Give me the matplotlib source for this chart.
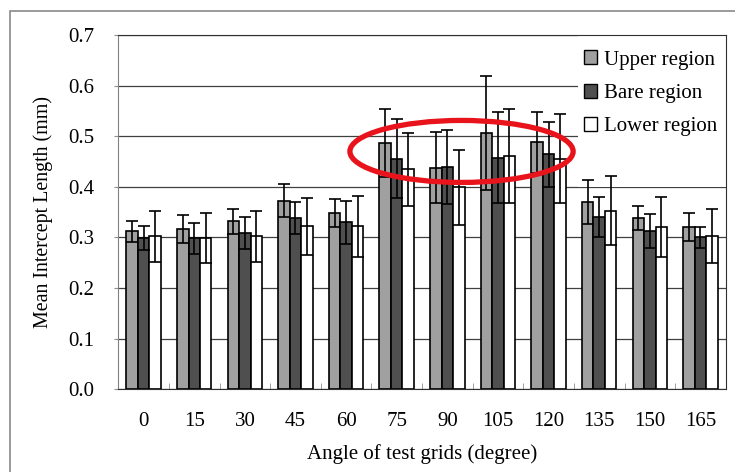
import numpy as np
import matplotlib
matplotlib.use("Agg")
import matplotlib.pyplot as plt
from matplotlib.patches import Ellipse, Rectangle

plt.rcParams['font.family'] = ['Liberation Serif', 'DejaVu Serif']

# data
angles = ['0', '15', '30', '45', '60', '75', '90', '105', '120', '135', '150', '165']
upper = [0.312, 0.317, 0.332, 0.373, 0.348, 0.487, 0.438, 0.507, 0.488, 0.370, 0.339, 0.321]
upper_err = [0.021, 0.028, 0.025, 0.032, 0.028, 0.067, 0.070, 0.113, 0.060, 0.043, 0.024, 0.027]
bare = [0.299, 0.298, 0.309, 0.338, 0.330, 0.456, 0.440, 0.458, 0.464, 0.340, 0.313, 0.300]
bare_err = [0.024, 0.030, 0.032, 0.032, 0.042, 0.078, 0.073, 0.090, 0.065, 0.040, 0.033, 0.020]
lower = [0.302, 0.299, 0.302, 0.322, 0.322, 0.435, 0.399, 0.461, 0.456, 0.353, 0.321, 0.303]
lower_err = [0.050, 0.050, 0.050, 0.056, 0.060, 0.072, 0.074, 0.093, 0.087, 0.068, 0.059, 0.054]
series_names = ['Upper region', 'Bare region', 'Lower region']

# highlight ellipse (data coords)
ell_center = (6.28, 0.470)
ell_w, ell_h = 4.41, 0.1225

fig = plt.figure(figsize=(7.35, 4.72), dpi=100)
ax = fig.add_axes([0.161, 0.1752, 0.8264, 0.7506])

# outer frame of the figure (cut off at right and bottom)
fig.patches.append(Rectangle((0.0136, -0.1), 1.2, 1.0767, transform=fig.transFigure,
                             fill=False, edgecolor='#8a8a8a', lw=1.2))

x = np.arange(len(angles))
w = 0.227
fs = 15
colors = ['#a0a0a0', '#4f4f4f', 'white']
vals = [upper, bare, lower]
errs = [upper_err, bare_err, lower_err]
for i in range(3):
    ax.bar(x + (i - 1) * w, vals[i], w, color=colors[i], edgecolor='black', lw=1.2,
           label=series_names[i], zorder=3)
for i in range(3):
    ax.errorbar(x + (i - 1) * w, vals[i], yerr=errs[i], fmt='none', ecolor='black',
                elinewidth=1.2, capsize=4, capthick=1.2, zorder=4)

ax.set_xlim(-0.5, len(angles) - 0.5)
ax.set_ylim(0, 0.7)
ax.set_yticks(np.arange(0, 0.71, 0.1))
ax.set_yticklabels(['%.1f' % v for v in np.arange(0, 0.71, 0.1)], fontsize=fs)
ax.set_xticks(x)
ax.set_xticklabels(angles, fontsize=fs)
ax.set_xticks(x[:-1] + 0.5, minor=True)
ax.tick_params(axis='x', which='major', length=0, pad=16)
ax.tick_params(axis='x', which='minor', direction='in', length=4, color='#909090')
ax.tick_params(axis='y', direction='out', length=3, color='#909090', pad=14)
ax.yaxis.grid(True, color='#404040', lw=0.9, zorder=0)
ax.set_axisbelow(True)
for s in ['top', 'right']:
    ax.spines[s].set_color('#303030')
ax.spines['left'].set_color('#808080')
ax.spines['bottom'].set_color('#303030')

ax.set_xlabel('Angle of test grids (degree)', fontsize=fs, labelpad=10)
ax.set_ylabel('Mean Intercept Length (mm)', fontsize=14.4, labelpad=11)

# white area behind the legend
ax.add_patch(Rectangle((0.757, 0.572), 0.243, 0.428, transform=ax.transAxes,
                       facecolor='white', edgecolor='none', zorder=1.5))
leg = ax.legend(loc='upper right', bbox_to_anchor=(1.013, 1.004), frameon=False,
                fontsize=fs, handlelength=0.65, handleheight=0.65, handletextpad=0.3,
                labelspacing=0.68, borderpad=0.3)
for h in leg.legend_handles:
    h.set_linewidth(1.0)

ax.add_patch(Ellipse(ell_center, ell_w, ell_h, fill=False, edgecolor='#e8131b',
                     lw=3.8, zorder=6))

fig.savefig('out.png', dpi=100)
